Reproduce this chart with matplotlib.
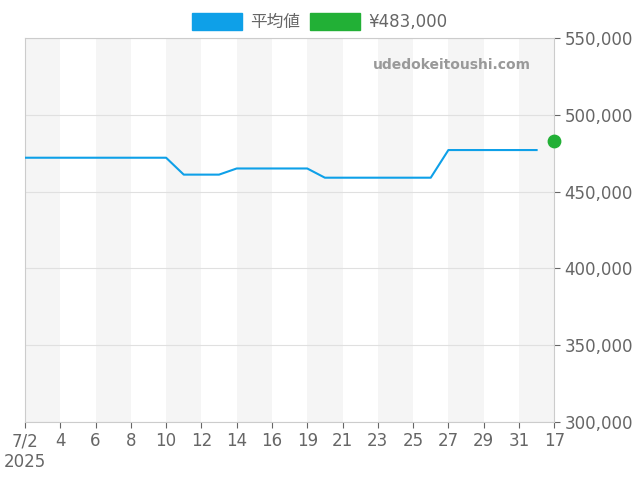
import matplotlib
matplotlib.use("Agg")
import matplotlib.pyplot as plt
from matplotlib.patches import Patch

plt.rcParams['font.family'] = ['DejaVu Sans', 'Noto Sans CJK JP']

avg = [472000]*9 + [461000]*3 + [465000]*5 + [459000]*7 + [477000]*6
current_idx = 30
current_val = 483000
tick_labels = ["7/2\n2025", "4", "6", "8", "10", "12", "14", "16", "19", "21", "23", "25", "27", "29", "31", "17"]

fig = plt.figure(figsize=(6.4, 4.8), dpi=100)
ax = fig.add_axes([0.039, 0.121, 0.827, 0.8])
for k in range(0, 30, 4):
    ax.axvspan(k, k + 2, color='#f5f5f5', zorder=0, lw=0)
ax.plot(range(len(avg)), avg, color='#0ea0e8', lw=1.5, zorder=3)
ax.scatter([current_idx], [current_val], color='#22b036', s=80, zorder=4, clip_on=False)
ax.set_xlim(0, 30)
ax.set_ylim(300000, 550000)
ax.set_xticks(range(0, 31, 2))
ax.set_xticklabels(tick_labels)
ax.yaxis.tick_right()
ax.set_yticks(range(300000, 550001, 50000))
ax.set_yticklabels([f"{v:,}" for v in range(300000, 550001, 50000)])
ax.grid(axis='y', color='#e0e0e0', lw=0.8)
ax.tick_params(colors='#666666', labelsize=12, length=4)
for s in ax.spines.values():
    s.set_color('#cccccc')
ax.text(0.955, 0.93, "udedokeitoushi.com", transform=ax.transAxes, ha='right', va='center',
        color='#999999', fontsize=10, fontweight='bold')
handles = [Patch(color='#0ea0e8'), Patch(color='#22b036')]
fig.legend(handles, ["平均値", "¥483,000"], loc='upper center', bbox_to_anchor=(0.5, 1.005), ncol=2,
           frameon=False, fontsize=12, labelcolor='#666666', handlelength=3, handleheight=1.2,
           handletextpad=0.5, columnspacing=0.6)
fig.savefig("out.png", dpi=100)
